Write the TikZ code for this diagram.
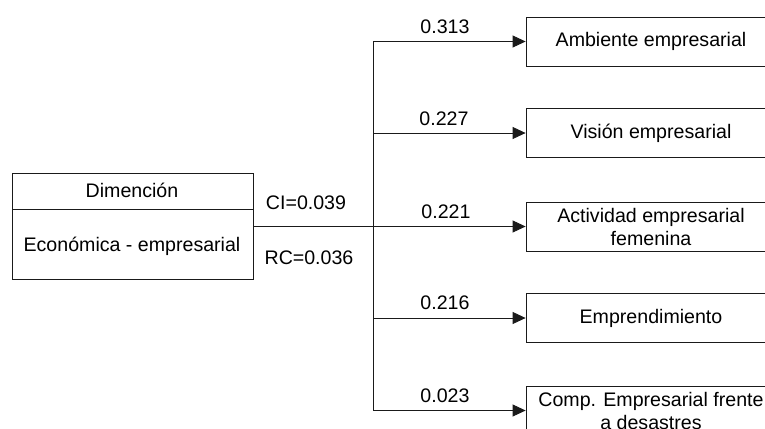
\documentclass[tikz,border=0pt]{standalone}
\usepackage{fontspec}
\setmainfont{Liberation Sans}
\usetikzlibrary{arrows.meta}
\definecolor{AHPLine}{HTML}{1A1A1A}
\tikzset{
  critbox/.style={draw=AHPLine,line width=0.8pt,minimum width=250pt,minimum height=49pt,inner sep=0pt,align=center},
  wlabel/.style={inner sep=0pt},
  branch/.style={draw=AHPLine,line width=0.8pt,-{Triangle[length=13pt,width=12pt]}}
}

\begin{document}
\begin{tikzpicture}[x=1pt,y=-1pt,font=\fontsize{19.6}{23}\selectfont]
\path[use as bounding box] (0,0) rectangle (765,428);
% dimension box
\node[draw=AHPLine,line width=0.8pt,minimum width=241pt,minimum height=106pt,inner sep=0pt] (dim) at (132.5,226.5) {};
\draw[AHPLine,line width=0.8pt] (12,209) -- (253,209);
\node[wlabel] (dimtitle) at (132,190) {Dimención};
\node[wlabel] (dimname) at (132,246) {Económica - empresarial};
\node[wlabel] (ci) at (306,203) {CI=0.039};
\node[wlabel] (rc) at (309,258) {RC=0.036};
% criteria
\node[critbox] (c1) at (651,41.5) {Ambiente empresarial};
\node[critbox] (c2) at (651,133) {Visión empresarial};
\node[critbox] (c3) at (651,226.5) {Actividad empresarial\\femenina};
\node[critbox] (c4) at (651,318) {Emprendimiento};
\node[critbox] (c5) at (651,410.5) {Comp. Empresarial frente\\a desastres};
% trunk
\coordinate (trtop) at (373,41.5);
\coordinate (trbot) at (373,410.5);
\coordinate (jn) at (dim.east -| trtop);
\draw[AHPLine,line width=0.8pt] (dim.east) -- (jn);
\draw[AHPLine,line width=0.8pt] (trtop) -- (trbot);
\draw[branch] (jn |- c1.west) -- (c1.west);
\draw[branch] (jn |- c2.west) -- (c2.west);
\draw[branch] (jn |- c3.west) -- (c3.west);
\draw[branch] (jn |- c4.west) -- (c4.west);
\draw[branch] (jn |- c5.west) -- (c5.west);
\node[wlabel] (w1) at (445,27) {0.313};
\node[wlabel] (w2) at (444,119) {0.227};
\node[wlabel] (w3) at (446,212) {0.221};
\node[wlabel] (w4) at (445,303) {0.216};
\node[wlabel] (w5) at (445,396) {0.023};
\end{tikzpicture}
\end{document}
